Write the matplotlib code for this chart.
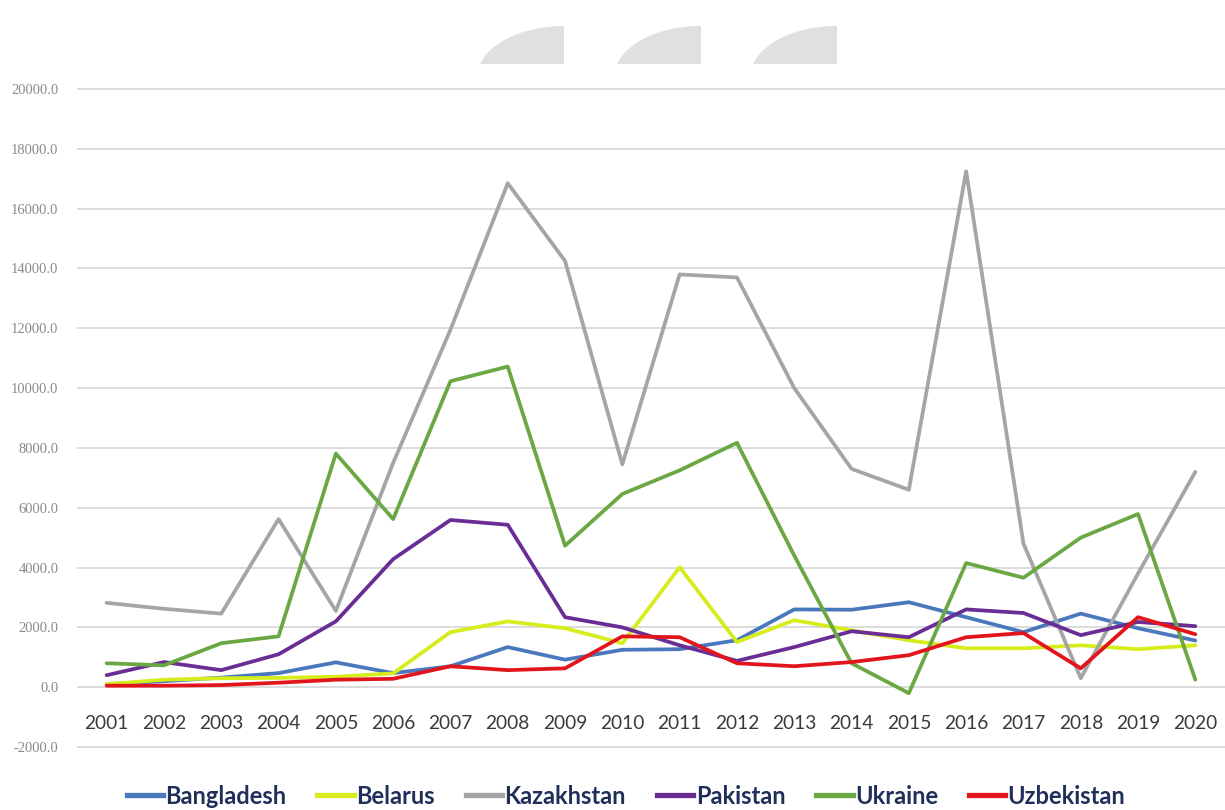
import matplotlib
matplotlib.use("Agg")
import matplotlib.pyplot as plt
from matplotlib.lines import Line2D
from matplotlib.patches import Polygon
import numpy as np

# ---- data -------------------------------------------------------------
years = ["2001", "2002", "2003", "2004", "2005", "2006", "2007", "2008", "2009", "2010",
         "2011", "2012", "2013", "2014", "2015", "2016", "2017", "2018", "2019", "2020"]

bangladesh = [100, 200, 320, 470, 830, 470, 700, 1340, 920, 1250,
              1270, 1570, 2600, 2590, 2840, 2340, 1840, 2460, 1970, 1560]
belarus = [100, 250, 300, 310, 350, 460, 1840, 2200, 1970, 1470,
           4010, 1510, 2240, 1900, 1570, 1300, 1300, 1400, 1270, 1400]
kazakhstan = [2820, 2620, 2460, 5620, 2550, 7500, 11950, 16850, 14250, 7450,
              13800, 13700, 10000, 7300, 6600, 17250, 4800, 300, 3800, 7200]
pakistan = [400, 840, 570, 1100, 2200, 4280, 5590, 5430, 2340, 2000,
            1400, 880, 1340, 1870, 1670, 2600, 2480, 1740, 2180, 2040]
ukraine = [800, 730, 1470, 1700, 7810, 5620, 10230, 10720, 4730, 6460,
           7250, 8170, 4400, 800, -200, 4150, 3660, 5000, 5790, 250]
uzbekistan = [50, 50, 70, 150, 250, 280, 700, 570, 630, 1700,
              1670, 800, 700, 840, 1070, 1670, 1810, 630, 2340, 1770]

series_names = ["Bangladesh", "Belarus", "Kazakhstan", "Pakistan", "Ukraine", "Uzbekistan"]
series_values = [bangladesh, belarus, kazakhstan, pakistan, ukraine, uzbekistan]
series_colors = ["#4a78bd", "#d6ec1c", "#a5a5a5", "#6a2d95", "#6aa843", "#e3151c"]

y_ticks = list(range(-2000, 20001, 2000))

# ---- figure -----------------------------------------------------------
W, H = 1225, 810
fig = plt.figure(figsize=(W / 100, H / 100), dpi=100)
fig.patch.set_facecolor("white")

left_px, right_px, top_px, bottom_px = 78, 1224, 89, 747
ax = fig.add_axes([left_px / W, 1 - bottom_px / H,
                   (right_px - left_px) / W, (bottom_px - top_px) / H])

x = np.arange(len(years))
for name, vals, col in zip(series_names, series_values, series_colors):
    ax.plot(x, vals, color=col, lw=2.7, solid_joinstyle="round",
            solid_capstyle="round", label=name, zorder=3)

ax.set_xlim(-0.5, len(years) - 0.5)
ax.set_ylim(-2000, 20000)
ax.set_yticks(y_ticks)
ax.set_yticklabels([f"{v:.1f}" for v in y_ticks])
ax.set_xticks(x)
ax.set_xticklabels(years)

ax.grid(axis="y", color="#dcdcdc", lw=1.4, zorder=0)
ax.grid(axis="x", visible=False)
for side in ["left", "right", "top"]:
    ax.spines[side].set_visible(False)
ax.spines["bottom"].set_position(("data", 0))
ax.spines["bottom"].set_color("#d6d6d6")
ax.spines["bottom"].set_linewidth(1.4)
ax.spines["bottom"].set_zorder(1)
for gl in ax.get_ygridlines():
    gl.set_clip_on(False)

ax.tick_params(axis="y", length=0, pad=14, labelsize=10.5, labelcolor="#8a8a8a")
ax.tick_params(axis="x", length=0, pad=20, labelsize=13.8, labelcolor="#3a3a3a")
for lab in ax.get_yticklabels():
    lab.set_family(["Liberation Serif", "DejaVu Serif"])
for lab in ax.get_xticklabels():
    lab.set_family(["Lato", "DejaVu Sans"])

# ---- legend -----------------------------------------------------------
handles = [Line2D([0], [0], color=c, lw=3.8) for c in series_colors]
leg = fig.legend(handles, series_names, loc="center", ncol=6, frameon=False,
                 bbox_to_anchor=(626 / W, 1 - 796 / H),
                 handlelength=1.55, handletextpad=0.1, columnspacing=1.3,
                 prop={"family": ["Lato", "DejaVu Sans"],
                       "weight": "bold", "size": 17})
for t in leg.get_texts():
    t.set_color("#1f2f5a")

# ---- decorative shapes at the top --------------------------------------
def arc_shape(right_x, base_y, top_y, width, depth=14):
    # elliptical arc from the base (left) up to the top-right corner
    cy = base_y + depth
    ry = cy - top_y
    rx = width / np.sqrt(1 - (depth / ry) ** 2)
    a0 = np.pi - np.arcsin(depth / ry)
    ang = np.linspace(np.pi / 2, a0, 60)
    pts = [(right_x + rx * np.cos(a), cy - ry * np.sin(a)) for a in ang]
    pts = [(right_x, base_y)] + pts
    return [(px / W, 1 - py / H) for px, py in pts]

for rx_ in (564, 701, 837):
    fig.patches.append(Polygon(arc_shape(rx_, 64, 26, 84), closed=True,
                               transform=fig.transFigure, facecolor="#e0e0e0",
                               edgecolor="none"))

fig.savefig("out.png", dpi=100, facecolor="white")
